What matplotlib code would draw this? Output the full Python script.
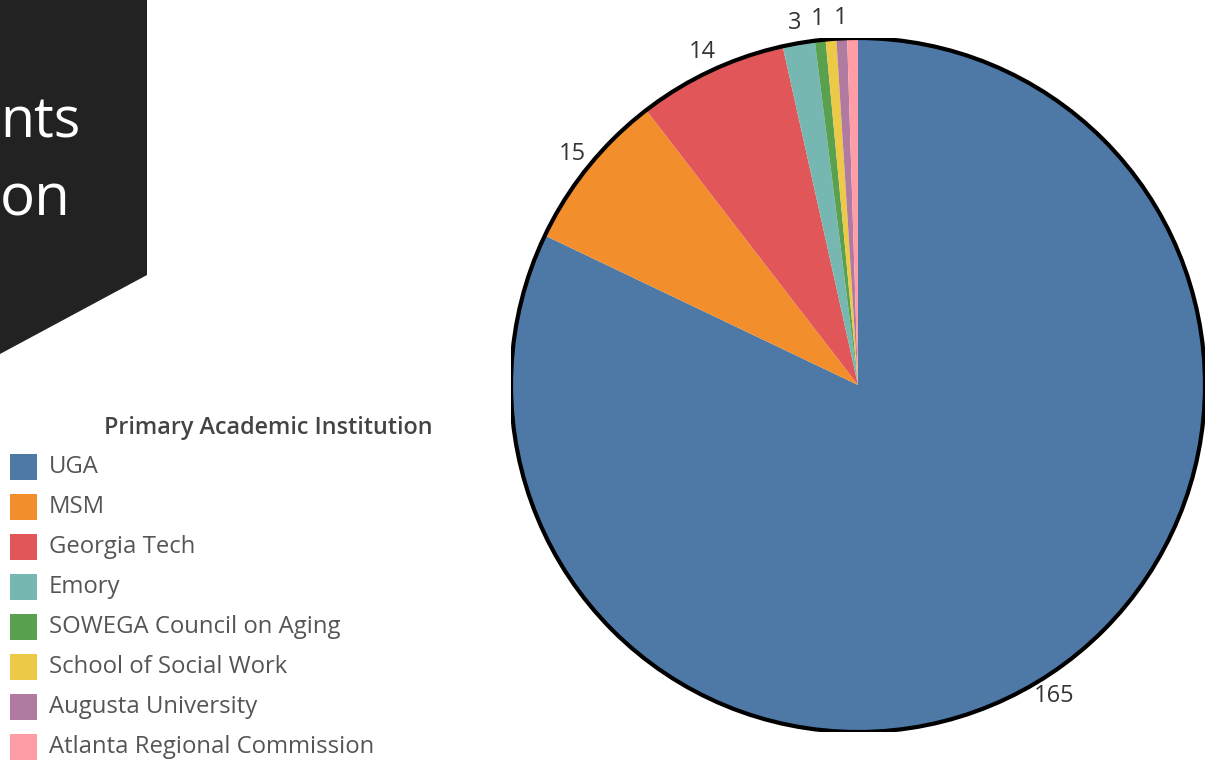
import numpy as np
import matplotlib.pyplot as plt
from matplotlib.patches import Polygon, Rectangle, Circle

institutions = ['UGA', 'MSM', 'Georgia Tech', 'Emory', 'SOWEGA Council on Aging',
                'School of Social Work', 'Augusta University', 'Atlanta Regional Commission']
counts = [165, 15, 14, 3, 1, 1, 1, 1]
shown = [True, True, True, True, True, False, True, False]  # labels tableau kept visible
colors = ['#4e79a7', '#f28e2b', '#e15759', '#76b7b2', '#59a14f', '#edc948', '#b07aa1', '#ff9da7']

W, H = 1205, 762
plt.rcParams['font.family'] = ['Open Sans', 'DejaVu Sans']
fig = plt.figure(figsize=(W / 100, H / 100), dpi=100)

# background layer in pixel coords
bg = fig.add_axes([0, 0, 1, 1])
bg.set_xlim(0, W)
bg.set_ylim(H, 0)
bg.axis('off')

bg.add_patch(Polygon([(0, 0), (147, 0), (147, 275), (0, 354)], closed=True,
                     color='#222222', lw=0))
bg.text(0, 137, 'nts', color='white', fontsize=40, ha='left', va='baseline')
bg.text(0, 216, 'on', color='white', fontsize=42, ha='left', va='baseline')

# legend
bg.text(268, 428, 'Primary Academic Institution', color='#444444', fontsize=16.8,
        ha='center', va='center', fontweight='semibold')
for i, (name, c) in enumerate(zip(institutions, colors)):
    y = 467 + 40 * i
    bg.add_patch(Rectangle((10, y - 13), 27, 26, color=c, lw=0))
    bg.text(49, y, name, color='#555555', fontsize=17.2, ha='left', va='center')

# pie
r_px = 347
cx, cy = 858, 385
ax = fig.add_axes([(cx - r_px) / W, (H - cy - r_px) / H, 2 * r_px / W, 2 * r_px / H])
wedges, _ = ax.pie(counts, colors=colors, startangle=90, counterclock=False,
                   radius=1, wedgeprops=dict(linewidth=0))
ax.add_patch(Circle((0, 0), 1, fill=False, ec='black', lw=3, zorder=5))
ax.set_xlim(-1, 1)
ax.set_ylim(-1, 1)
ax.set_aspect('equal')
ax.axis('off')

for w, v, s in zip(wedges, counts, shown):
    if not s:
        continue
    ang = np.deg2rad((w.theta1 + w.theta2) / 2)
    d = 1.06
    ax.text(d * np.cos(ang), d * np.sin(ang), str(v), color='#333333', fontsize=17,
            ha='center', va='center', clip_on=False)

fig.savefig('out.png', dpi=100)
